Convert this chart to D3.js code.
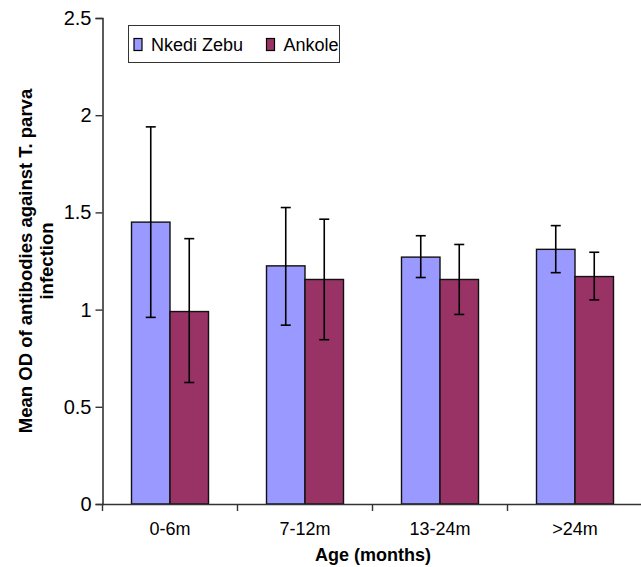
<!DOCTYPE html>
<html>
<head>
<meta charset="utf-8">
<script src="https://cdn.jsdelivr.net/npm/d3@7"></script>
<style>
  html, body { margin: 0; padding: 0; background: #fff; }
  svg { display: block; font-family: "Liberation Sans", Arial, Helvetica, sans-serif; }
</style>
</head>
<body>
<svg id="chart" width="641" height="567"></svg>
<script>
const categories = ["0-6m", "7-12m", "13-24m", ">24m"];
const seriesNames = ["Nkedi Zebu", "Ankole"];
const zebuMean  = [1.45, 1.225, 1.27, 1.31];
const zebuLow   = [0.96, 0.92, 1.165, 1.19];
const zebuHigh  = [1.94, 1.525, 1.38, 1.432];
const ankoleMean = [0.99, 1.155, 1.155, 1.17];
const ankoleLow  = [0.625, 0.845, 0.975, 1.05];
const ankoleHigh = [1.365, 1.465, 1.335, 1.295];
const yTicks = [0, 0.5, 1, 1.5, 2, 2.5];
const yTickLabels = ["0", "0.5", "1", "1.5", "2", "2.5"];
const colors = ["#9999FF", "#993366"];

(function () {
const svg = d3.select("#chart");
const pLeft = 102.5, pRight = 642.5, pTop = 18, pBottom = 504;

const x = d3.scaleBand().domain(categories).range([pLeft, pRight]).paddingInner(0).paddingOuter(0);
const bw = x.bandwidth();
const groupW = 77;
const x1 = d3.scaleBand().domain(seriesNames).range([(bw - groupW) / 2, (bw + groupW) / 2]);
const y = d3.scaleLinear().domain([0, 2.5]).range([pBottom, pTop]);

const rows = [];
categories.forEach((c, i) => {
  rows.push({cat: c, s: seriesNames[0], v: zebuMean[i], lo: zebuLow[i], hi: zebuHigh[i], col: colors[0]});
  rows.push({cat: c, s: seriesNames[1], v: ankoleMean[i], lo: ankoleLow[i], hi: ankoleHigh[i], col: colors[1]});
});

// bars
svg.append("g").selectAll("rect").data(rows).join("rect")
  .attr("x", d => x(d.cat) + x1(d.s))
  .attr("y", d => y(d.v))
  .attr("width", x1.bandwidth())
  .attr("height", d => y(0) - y(d.v))
  .attr("fill", d => d.col)
  .attr("stroke", "#111")
  .attr("stroke-width", 1.4);

// error bars
const eb = svg.append("g").attr("stroke", "#000").attr("stroke-width", 1.6);
rows.forEach(d => {
  const cx = x(d.cat) + x1(d.s) + x1.bandwidth() / 2;
  eb.append("line").attr("x1", cx).attr("x2", cx).attr("y1", y(d.lo)).attr("y2", y(d.hi));
  eb.append("line").attr("x1", cx - 5).attr("x2", cx + 5).attr("y1", y(d.lo)).attr("y2", y(d.lo));
  eb.append("line").attr("x1", cx - 5).attr("x2", cx + 5).attr("y1", y(d.hi)).attr("y2", y(d.hi));
});

// y axis
const yAxis = d3.axisLeft(y).tickValues(yTicks).tickFormat((d, i) => yTickLabels[i]).tickSize(7).tickPadding(4);
const gy = svg.append("g").attr("transform", `translate(${pLeft},0)`).call(yAxis);
gy.select(".domain").attr("stroke", "#333").attr("stroke-width", 1.6);
gy.selectAll(".tick line").attr("stroke", "#333").attr("stroke-width", 1.4);
gy.selectAll(".tick text").attr("font-size", 20).attr("fill", "#000").attr("font-family", "Liberation Sans, Arial, sans-serif");

// x axis
const xAxis = d3.axisBottom(x).tickSize(0).tickPadding(18);
const gx = svg.append("g").attr("transform", `translate(0,${pBottom})`).call(xAxis);
gx.select(".domain").attr("stroke", "#333").attr("stroke-width", 1.6);
gx.selectAll(".tick text").attr("font-size", 18).attr("fill", "#000").attr("font-family", "Liberation Sans, Arial, sans-serif");
// boundary ticks
const bounds = categories.map(c => x(c)).concat([pRight]);
svg.append("g").selectAll("line").data(bounds).join("line")
  .attr("x1", d => d).attr("x2", d => d)
  .attr("y1", pBottom).attr("y2", pBottom + 7)
  .attr("stroke", "#333").attr("stroke-width", 1.4);

// axis titles
svg.append("text")
  .attr("x", 373).attr("y", 561)
  .attr("text-anchor", "middle")
  .attr("font-size", 18).attr("font-weight", "bold")
  .text("Age (months)");

const yt = svg.append("text")
  .attr("transform", `translate(0,${(pTop + pBottom) / 2}) rotate(-90)`)
  .attr("text-anchor", "middle")
  .attr("font-size", 18.5).attr("font-weight", "bold");
yt.append("tspan").attr("x", 0).attr("y", 32).text("Mean OD of antibodies against T. parva");
yt.append("tspan").attr("x", 0).attr("y", 53).text("infection");

// legend
const lg = svg.append("g");
lg.append("rect").attr("x", 128.5).attr("y", 25.5).attr("width", 211).attr("height", 37)
  .attr("fill", "#fff").attr("stroke", "#333").attr("stroke-width", 1);
const legendX = [134, 266.5];
seriesNames.forEach((s, i) => {
  lg.append("rect").attr("x", legendX[i]).attr("y", 38.5).attr("width", 8).attr("height", 12)
    .attr("fill", colors[i]).attr("stroke", "#000").attr("stroke-width", 1.2);
  lg.append("text").attr("x", legendX[i] + 17).attr("y", 51).attr("font-size", 18).text(s);
});
})();
</script>
</body>
</html>
